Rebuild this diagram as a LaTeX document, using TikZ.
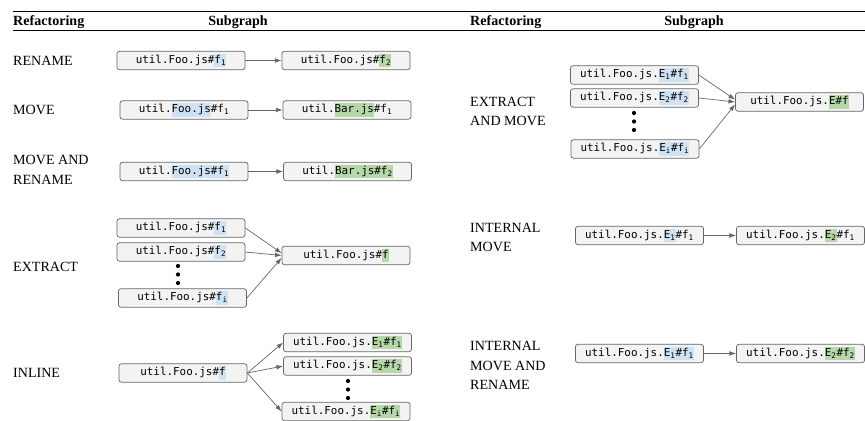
\documentclass[tikz,border=0pt]{standalone}
\usepackage{fontspec}
\setmainfont{Liberation Serif}
\setmonofont{DejaVu Sans Mono}
\usetikzlibrary{arrows.meta}
\definecolor{hlblue}{HTML}{CFE2F3}
\definecolor{hlgreen}{HTML}{B6D7A8}
\definecolor{boxfill}{HTML}{F3F3F3}
\definecolor{edgegray}{HTML}{666666}
\setlength{\fboxsep}{0pt}
\newcommand{\hlb}[1]{\colorbox{hlblue}{\strut #1}}
\newcommand{\hlg}[1]{\colorbox{hlgreen}{\strut #1}}
\newcommand{\lo}[1]{\textsubscript{#1}}
\tikzstyle{fnbox} = [draw=edgegray, fill=boxfill, line width=0.6pt, rounded corners=2pt, minimum width=3.84cm, minimum height=0.55cm, inner sep=0pt, font=\ttfamily\fontsize{9.3}{11.6}\selectfont]
\tikzstyle{arrow} = [edgegray, line width=0.6pt, -{Latex[length=2mm,width=1.4mm]}]
\tikzstyle{kind} = [anchor=west, align=left, inner sep=0pt, font=\fontsize{12}{16.5}\selectfont]
\tikzstyle{colhead} = [inner sep=0pt, font=\bfseries\fontsize{12}{14}\selectfont]
\tikzstyle{vdot} = [fill=black]

\begin{document}
\begin{tikzpicture}[x=0.03cm,y=-0.03cm]
	\useasboundingbox (0,0) rectangle (865,421);
	% table header
	\draw[line width=1.1pt] (13,11.5) -- (865,11.5);
	\draw[line width=0.7pt] (13,30.5) -- (865,30.5);
	\node[colhead,anchor=west] (refL) at (13,22) {Refactoring};
	\node[colhead] (subL) at (238,22) {Subgraph};
	\node[colhead,anchor=west] (refR) at (470,22) {Refactoring};
	\node[colhead] (subR) at (694,22) {Subgraph};

	% rename
	\node[kind] (rename) at (13,60.5) {RENAME};
	\node[fnbox] (renA) at (181,60.5) {util.Foo.js\#\hlb{f\lo{1}}};
	\node[fnbox] (renB) at (346,60.5) {util.Foo.js\#\hlg{f\lo{2}}};
	\draw[arrow] (renA) -- (renB);

	% move
	\node[kind] (move) at (13,110) {MOVE};
	\node[fnbox] (movA) at (184,110) {util.\hlb{Foo.js}\#f\lo{1}};
	\node[fnbox] (movB) at (347,110) {util.\hlg{Bar.js}\#f\lo{1}};
	\draw[arrow] (movA) -- (movB);

	% move and rename
	\node[kind] (moveren) at (13,170) {MOVE AND\\RENAME};
	\node[fnbox] (mrA) at (184,171.5) {util.\hlb{Foo.js\#f\lo{1}}};
	\node[fnbox] (mrB) at (347.5,171.5) {util.\hlg{Bar.js\#f\lo{2}}};
	\draw[arrow] (mrA) -- (mrB);

	% extract
	\node[kind] (extract) at (13,267) {EXTRACT};
	\node[fnbox] (exA) at (181,228) {util.Foo.js\#\hlb{f\lo{1}}};
	\node[fnbox] (exB) at (181,252) {util.Foo.js\#\hlb{f\lo{2}}};
	\node[fnbox] (exI) at (182.5,298) {util.Foo.js\#\hlb{f\lo{i}}};
	\node[fnbox] (exT) at (346,255.5) {util.Foo.js\#\hlg{f}};
	\foreach \y in {266,274.5,283}
	\fill[vdot] (178,\y) circle (1.8pt);
	\draw[arrow] (exA.east) -- ([yshift=2pt]exT.west);
	\draw[arrow] (exB.east) -- (exT.west);
	\draw[arrow] (exI.east) -- ([yshift=-2pt]exT.west);

	% inline
	\node[kind] (inline) at (13,373) {INLINE};
	\node[fnbox] (inS) at (183,373) {util.Foo.js\#\hlb{f}};
	\node[fnbox] (inA) at (347.5,342.5) {util.Foo.js.\hlg{E\lo{1}\#f\lo{1}}};
	\node[fnbox] (inB) at (347.5,366) {util.Foo.js.\hlg{E\lo{2}\#f\lo{2}}};
	\node[fnbox] (inI) at (346,411.5) {util.Foo.js.\hlg{E\lo{i}\#f\lo{i}}};
	\foreach \y in {381,389.5,398}
	\fill[vdot] (348,\y) circle (1.8pt);
	\draw[arrow] (inS.east) -- (inA.west);
	\draw[arrow] (inS.east) -- (inB.west);
	\draw[arrow] (inS.east) -- (inI.west);

	% extract and move
	\node[kind] (exmove) at (470,111.5) {EXTRACT\\AND MOVE};
	\node[fnbox] (emA) at (634.5,75) {util.Foo.js.\hlb{E\lo{1}\#f\lo{1}}};
	\node[fnbox] (emB) at (634.5,98) {util.Foo.js.\hlb{E\lo{2}\#f\lo{2}}};
	\node[fnbox] (emI) at (635,149) {util.Foo.js.\hlb{E\lo{i}\#f\lo{i}}};
	\node[fnbox] (emT) at (799.5,102) {util.Foo.js.\hlg{E\#f}};
	\foreach \y in {113,121.5,130}
	\fill[vdot] (634,\y) circle (1.8pt);
	\draw[arrow] (emA.east) -- ([yshift=2pt]emT.west);
	\draw[arrow] (emB.east) -- (emT.west);
	\draw[arrow] (emI.east) -- ([yshift=-2pt]emT.west);

	% internal move
	\node[kind] (intmove) at (470,237.5) {INTERNAL\\MOVE};
	\node[fnbox] (imA) at (639.5,235.5) {util.Foo.js.\hlb{E\lo{1}}\#f\lo{1}};
	\node[fnbox] (imB) at (800.5,235.5) {util.Foo.js.\hlg{E\lo{2}}\#f\lo{1}};
	\draw[arrow] (imA) -- (imB);

	% internal move and rename
	\node[kind] (intmoveren) at (470,365.5) {INTERNAL\\MOVE AND\\RENAME};
	\node[fnbox] (imrA) at (639.5,353.5) {util.Foo.js.\hlb{E\lo{1}\#f\lo{1}}};
	\node[fnbox] (imrB) at (800.5,353.5) {util.Foo.js.\hlg{E\lo{2}\#f\lo{2}}};
	\draw[arrow] (imrA) -- (imrB);
\end{tikzpicture}
\end{document}
